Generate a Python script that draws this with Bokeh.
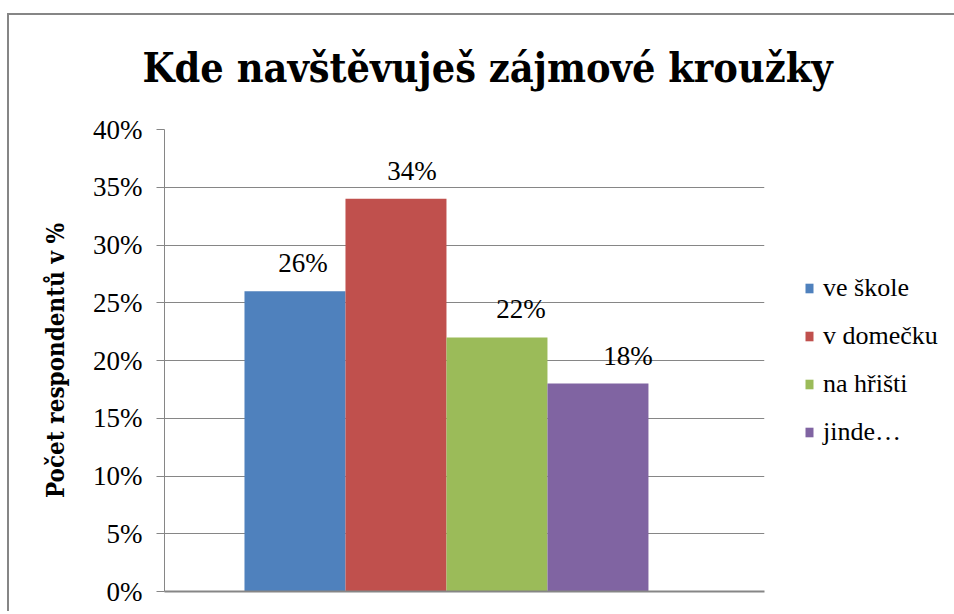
from bokeh.plotting import figure
from bokeh.models import (ColumnDataSource, Range1d, FixedTicker, PrintfTickFormatter,
                          Legend, LegendItem, Title)
from bokeh.core.properties import value
from bokeh.embed import file_html
from bokeh.resources import INLINE

# ---- data ----
series = ["ve škole", "v domečku", "na hřišti", "jinde…"]
values = [26, 34, 22, 18]
labels = ["26%", "34%", "22%", "18%"]
colors = ["#4F81BD", "#C0504D", "#9BBB59", "#8064A2"]
y_ticks = [0, 5, 10, 15, 20, 25, 30, 35, 40]
title_text = "Kde navštěvuješ zájmové kroužky"
y_title = "Počet respondentů v %"

# style: small horizontal nudges of the value labels (pixels)
label_nudge_px = [8, 16, 24, 30]

FONT = "Times New Roman"
BOLD_FONT = "DejaVu Serif Condensed"
GRAY = "#868686"

src = ColumnDataSource(dict(
    x=list(range(len(series))),
    top=values,
    label=labels,
    color=colors,
    name=series,
    nudge=label_nudge_px,
))

p = figure(frame_width=600, frame_height=462, output_backend="svg", toolbar_location=None,
           x_range=Range1d(-1.292, 4.649), y_range=Range1d(0, 40),
           min_border_left=155, min_border_right=188, min_border_top=114,
           min_border_bottom=20)
p.outline_line_color = None
p.background_fill_color = "white"
p.border_fill_color = "white"
p.styles = {"border-left": "2px solid #868686", "border-top": "2px solid #868686",
            "margin-top": "13px", "margin-left": "7px"}

# title (a thin spacer panel keeps it well above the plot area)
p.title = Title(text=title_text, text_font=BOLD_FONT, text_font_size="41px",
                text_font_style="bold", text_color="black", align="left",
                offset=-22, standoff=0)
spacer = Title(text=" ", text_font_size="1px", standoff=35)
p.add_layout(spacer, "above")

# bars
r = p.vbar(x="x", top="top", width=1.0, bottom=0, source=src,
           fill_color="color", line_color=None)

# data labels
p.text(x="x", y="top", text="label", source=src, text_font=value(FONT),
       text_font_size="27px", text_color="black", text_align="center",
       text_baseline="middle", y_offset=-28, x_offset="nudge")

# axes
p.yaxis.ticker = FixedTicker(ticks=y_ticks)
p.yaxis.formatter = PrintfTickFormatter(format="%d%%")
p.yaxis.major_label_text_font = FONT
p.yaxis.major_label_text_font_size = "27px"
p.yaxis.major_label_text_color = "black"
p.yaxis.major_label_standoff = 14
p.yaxis.major_tick_out = 8
p.yaxis.major_tick_in = 0
p.yaxis.minor_tick_line_color = None
p.yaxis.major_tick_line_color = GRAY
p.yaxis.axis_line_color = GRAY
p.yaxis.axis_label = y_title
p.yaxis.axis_label_text_font = BOLD_FONT
p.yaxis.axis_label_text_font_size = "24px"
p.yaxis.axis_label_text_font_style = "bold"
p.yaxis.axis_label_text_color = "black"
p.yaxis.axis_label_standoff = 20

p.xaxis.ticker = FixedTicker(ticks=[])
p.xaxis.major_label_text_font_size = "0px"
p.xaxis.major_tick_line_color = None
p.xaxis.minor_tick_line_color = None
p.xaxis.axis_line_color = GRAY
p.xaxis.axis_line_width = 2

p.xgrid.grid_line_color = None
p.ygrid.ticker = FixedTicker(ticks=y_ticks)
p.ygrid.grid_line_color = GRAY
p.ygrid.grid_line_width = 1

# legend
items = [LegendItem(label=series[i], renderers=[r], index=i) for i in range(len(series))]
legend = Legend(items=items, location="left", orientation="vertical",
                label_text_font=FONT, label_text_font_size="26px",
                label_text_color="black", glyph_width=10, glyph_height=12,
                label_standoff=9, label_height=30, spacing=18, padding=10,
                margin=40, border_line_color=None, background_fill_alpha=0)
p.add_layout(legend, "right")

open("out.html", "w").write(file_html(p, INLINE))
